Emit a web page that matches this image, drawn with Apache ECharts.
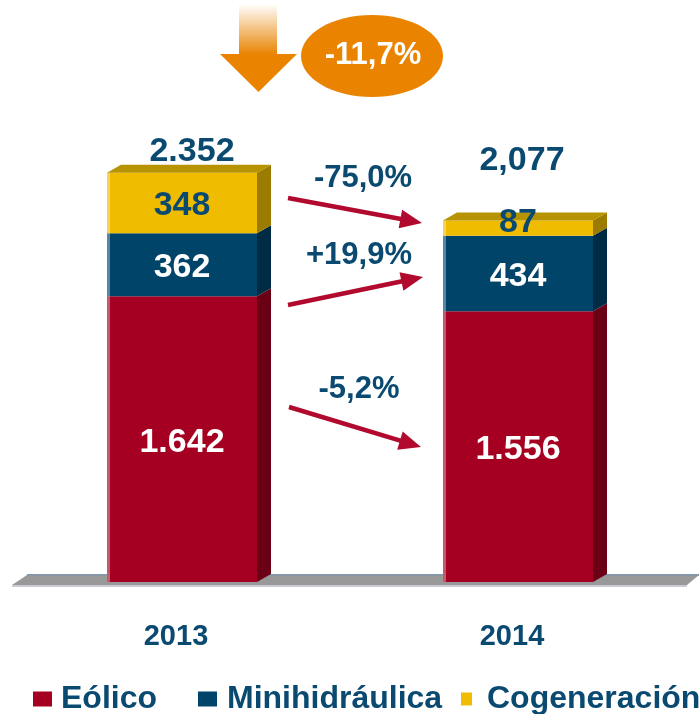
<!DOCTYPE html>
<html>
<head>
<meta charset="utf-8">
<script src="https://cdn.jsdelivr.net/npm/echarts@6/dist/echarts.min.js"></script>
<style>
  html, body { margin: 0; padding: 0; background: #fff; }
  #chart { width: 699px; height: 714px; }
</style>
</head>
<body>
<div id="chart"></div>
<script>
const years = ['2013', '2014']
const seriesNames = ['Eólico', 'Minihidráulica', 'Cogeneración']
const eolico = [1642, 1556]
const minihidraulica = [362, 434]
const cogeneracion = [348, 87]
const totalLabels = ['2.352', '2,077']
const changeLabels = ['-75,0%', '+19,9%', '-5,2%']
const totalChange = '-11,7%'

const values = [eolico, minihidraulica, cogeneracion]
const frontColors = ['#a50021', '#00446a', '#f0bc00']
const sideColors = ['#6a0016', '#002b45', '#9c7c00']
const topColor = '#b89300'
const labelColors = ['#ffffff', '#ffffff', '#0b4a70']
const textBlue = '#0b4a70'
const font = '"Liberation Sans", Arial, sans-serif'
const depthX = 14, depthY = 8, barRatio = 150 / 336

function fmt(v) {
    return String(v).replace(/\B(?=(\d{3})+(?!\d))/g, '.')
}

// stacked bases built from the value arrays
const stacked = values.map(function (vals, i) {
    return vals.map(function (v, j) {
        let base = 0
        for (let k = 0; k < i; k++) base += values[k][j]
        return [j, base, base + v, v]
    })
})

function makeRender(i) {
    return function (params, api) {
        const cat = api.value(0)
        const p0 = api.coord([cat, api.value(1)])
        const p1 = api.coord([cat, api.value(2)])
        const bw = api.size([1, 0])[0] * barRatio
        const x0 = p0[0] - bw / 2, x1 = p0[0] + bw / 2
        const yb = p0[1], yt = p1[1]
        const children = [
            {type: 'rect', shape: {x: x0, y: yt, width: bw, height: yb - yt}, style: {fill: frontColors[i]}},
            {type: 'rect', shape: {x: x0, y: yt, width: 3, height: yb - yt}, style: {fill: 'rgba(255,255,255,0.35)'}},
            {type: 'polygon', shape: {points: [[x1, yb], [x1, yt], [x1 + depthX, yt - depthY], [x1 + depthX, yb - depthY]]}, style: {fill: sideColors[i]}}
        ]
        if (i === values.length - 1) {
            children.push({type: 'polygon', shape: {points: [[x0, yt], [x1, yt], [x1 + depthX, yt - depthY], [x0 + depthX, yt - depthY]]}, style: {fill: topColor}})
        }
        const h = yb - yt
        children.push({
            type: 'text',
            x: p0[0],
            y: (yb + yt) / 2 + (h < 40 ? -6 : 3),
            style: {
                text: fmt(api.value(3)), fill: labelColors[i], fontSize: 34, fontWeight: 'bold',
                fontFamily: font, align: 'center', verticalAlign: 'middle'
            }
        })
        return {type: 'group', children: children}
    }
}

function arrow(x1, y1, x2, y2) {
    const dx = x2 - x1, dy = y2 - y1
    const len = Math.sqrt(dx * dx + dy * dy)
    const ux = dx / len, uy = dy / len
    const hl = 22, hw = 9.5
    const bx = x2 - ux * hl, by = y2 - uy * hl
    return [
        {type: 'line', shape: {x1: x1, y1: y1, x2: bx + ux * 2, y2: by + uy * 2}, style: {stroke: '#b10a2e', lineWidth: 4.5}, z: 10},
        {type: 'polygon', shape: {points: [[x2, y2], [bx - uy * hw, by + ux * hw], [bx + uy * hw, by - ux * hw]]}, style: {fill: '#b10a2e'}, z: 10}
    ]
}

function pctText(text, x, y, size) {
    return {type: 'text', x: x, y: y, z: 10, style: {text: text, fill: textBlue, fontSize: size, fontWeight: 'bold', fontFamily: font, align: 'center', verticalAlign: 'middle'}}
}

const legends = [
    {left: 33, w: 19, h: 15, gap: 4},
    {left: 198, w: 19, h: 15, gap: 5},
    {left: 461, w: 11, h: 13, gap: 10}
].map(function (l, i) {
    return {
        data: [seriesNames[i]], left: l.left, top: 683, padding: 0,
        itemWidth: l.w, itemHeight: l.h, icon: 'rect',
        textStyle: {color: textBlue, fontSize: 32, fontWeight: 'bold', fontFamily: font, padding: [0, 0, 0, l.gap]}
    }
})

const graphics = [
    // floor
    {type: 'polygon', z: 0, shape: {points: [[27, 575], [699, 575], [687, 585], [12, 585]]}, style: {fill: '#999999'}},
    {type: 'line', z: 0, shape: {x1: 27, y1: 575, x2: 699, y2: 575}, style: {stroke: '#8797a8', lineWidth: 2}},
    {type: 'line', z: 0, shape: {x1: 12, y1: 586, x2: 687, y2: 586}, style: {stroke: '#c9cdd2', lineWidth: 2}},
    // totals
    pctText(totalLabels[0], 192, 152, 34),
    pctText(totalLabels[1], 522, 161, 34),
    // big orange arrow and bubble
    {type: 'rect', z: 10, shape: {x: 239, y: 4, width: 38, height: 51}, style: {fill: new echarts.graphic.LinearGradient(0, 0, 0, 1, [{offset: 0, color: 'rgba(233,131,0,0)'}, {offset: 1, color: '#e98300'}])}},
    {type: 'polygon', z: 10, shape: {points: [[220, 54], [297, 54], [258.5, 92]]}, style: {fill: '#e98300'}},
    {type: 'ellipse', z: 10, shape: {cx: 372, cy: 56, rx: 71, ry: 41}, style: {fill: '#e98300'}},
    {type: 'text', z: 11, x: 373, y: 55, style: {text: totalChange, fill: '#ffffff', fontSize: 31, fontWeight: 'bold', fontFamily: font, align: 'center', verticalAlign: 'middle'}},
    // changes between years
    pctText(changeLabels[0], 363, 178, 31),
    pctText(changeLabels[1], 359, 255, 31),
    pctText(changeLabels[2], 359, 389, 31)
].concat(arrow(288, 198, 422, 223), arrow(288, 305, 423, 277), arrow(289, 407, 421, 447))

const option = {
    animation: false,
    grid: {left: 14, right: 13, top: 60, bottom: 132},
    xAxis: {
        type: 'category',
        data: years,
        axisLine: {show: false},
        axisTick: {show: false},
        axisLabel: {margin: 40, color: textBlue, fontSize: 29, fontWeight: 'bold', fontFamily: font, padding: [0, 12, 0, 0]}
    },
    yAxis: {type: 'value', min: 0, max: 3000, show: false},
    legend: legends,
    graphic: graphics,
    series: seriesNames.map(function (name, i) {
        return {
            name: name,
            type: 'custom',
            renderItem: makeRender(i),
            itemStyle: {color: frontColors[i]},
            encode: {x: 0, y: [1, 2]},
            data: stacked[i],
            z: 2
        }
    })
}

echarts.init(document.getElementById('chart')).setOption(option)
</script>
</body>
</html>
